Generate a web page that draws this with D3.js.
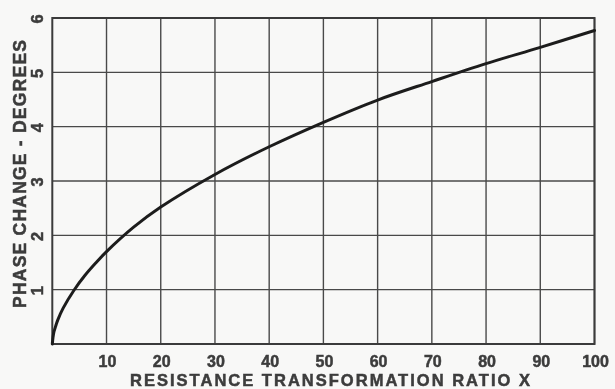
<!DOCTYPE html>
<html>
<head>
<meta charset="utf-8">
<script src="https://cdn.jsdelivr.net/npm/d3@7"></script>
<style>
  html, body { margin: 0; padding: 0; background: #f8f8f7; }
  svg { display: block; }
  text { font-family: "Liberation Sans", "DejaVu Sans", sans-serif; font-weight: bold; fill: #3c3c3c; stroke: #3c3c3c; stroke-width: 0.5; }
</style>
</head>
<body>
<svg id="chart" width="615" height="389"></svg>
<script>
// Resistance transformation ratio and the resulting phase change (degrees)
const ratio = [0, 0.25, 0.5, 1, 2, 4, 6, 8, 10, 15, 20, 30, 40, 50, 60, 70, 80, 90, 100];
const phase = [0, 0.20, 0.29, 0.44, 0.66, 0.99, 1.26, 1.49, 1.70, 2.15, 2.52, 3.12, 3.63, 4.08, 4.49, 4.83, 5.16, 5.46, 5.77];

const xTicks = [10, 20, 30, 40, 50, 60, 70, 80, 90, 100];
const yTicks = [1, 2, 3, 4, 5, 6];
const xTitle = "RESISTANCE TRANSFORMATION RATIO X";
const yTitle = "PHASE CHANGE - DEGREES";

const svg = d3.select("#chart");
const margin = { left: 52.3, right: 20.5, top: 18, bottom: 45 };
const W = 615, H = 389;

const x = d3.scaleLinear().domain([0, 100]).range([margin.left, W - margin.right]);
const y = d3.scaleLinear().domain([0, 6]).range([H - margin.bottom, margin.top]);

const soft = svg.append("defs").append("filter").attr("id", "soft");
soft.append("feGaussianBlur").attr("stdDeviation", 0.45);

const g = svg.append("g").attr("filter", "url(#soft)");

// grid
const gridColor = "#4a4a4a";
g.append("g").selectAll("line").data(xTicks).join("line")
  .attr("x1", d => x(d)).attr("x2", d => x(d))
  .attr("y1", y(0)).attr("y2", y(6))
  .attr("stroke", gridColor).attr("stroke-width", 1.4);
g.append("g").selectAll("line").data(yTicks).join("line")
  .attr("x1", x(0)).attr("x2", x(100))
  .attr("y1", d => y(d)).attr("y2", d => y(d))
  .attr("stroke", gridColor).attr("stroke-width", 1.4);

// frame
g.append("rect")
  .attr("x", x(0)).attr("y", y(6))
  .attr("width", x(100) - x(0)).attr("height", y(0) - y(6))
  .attr("fill", "none").attr("stroke", "#3a3a3a").attr("stroke-width", 2);

// curve
const line = d3.line()
  .x((d, i) => x(ratio[i]))
  .y(d => y(d))
  .curve(d3.curveCatmullRom.alpha(0.5));
g.append("path")
  .datum(phase)
  .attr("d", line)
  .attr("fill", "none")
  .attr("stroke", "#1e1e1e")
  .attr("stroke-width", 3)
  .attr("stroke-linecap", "round");

// x tick labels
g.append("g").selectAll("text").data(xTicks).join("text")
  .attr("x", d => x(d) + 1)
  .attr("y", 366.5)
  .attr("text-anchor", "middle")
  .attr("font-size", 16)
  .text(d => d);

// y tick labels (rotated)
g.append("g").selectAll("text").data(yTicks).join("text")
  .attr("transform", d => `translate(43,${y(d) + 1}) rotate(-90)`)
  .attr("text-anchor", "middle")
  .attr("font-size", 16.5)
  .text(d => d);

// axis titles
g.append("text")
  .attr("x", 330).attr("y", 386)
  .attr("text-anchor", "middle")
  .attr("font-size", 16.5)
  .attr("textLength", 400)
  .attr("lengthAdjust", "spacing")
  .text(xTitle);

g.append("text")
  .attr("transform", "translate(25.5,174) rotate(-90)")
  .attr("text-anchor", "middle")
  .attr("font-size", 17.5)
  .attr("textLength", 268)
  .attr("lengthAdjust", "spacing")
  .text(yTitle);
</script>
</body>
</html>
